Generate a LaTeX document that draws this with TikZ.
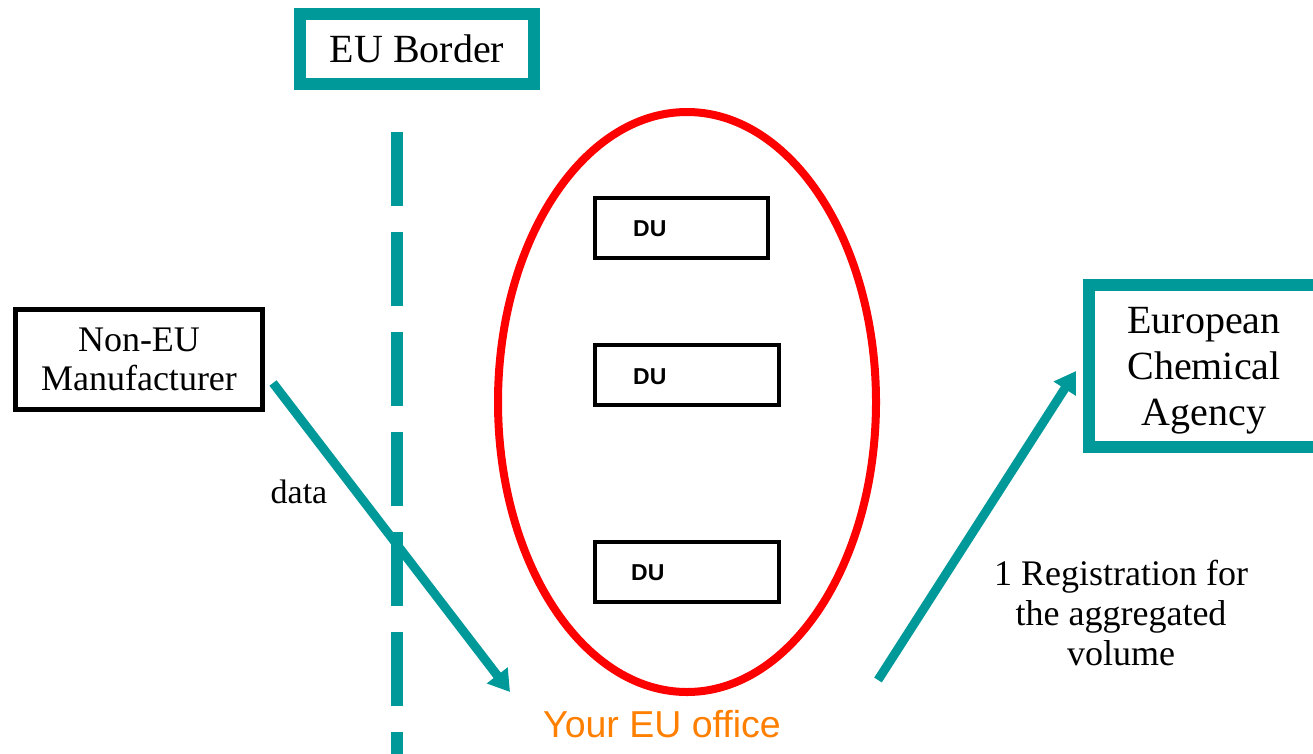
\documentclass[tikz,border=0pt]{standalone}
\usepackage{fontspec}
\setmainfont{Liberation Serif}
\setsansfont{Liberation Sans}
\usetikzlibrary{arrows.meta}
\definecolor{teal}{RGB}{0,153,153}
\definecolor{eured}{RGB}{255,0,0}
\definecolor{euorange}{RGB}{255,128,0}
\tikzset{
  tealbox/.style={draw=teal, line width=12pt, inner sep=0pt, fill=white},
  blackbox/.style={draw=black, line width=5pt, inner sep=0pt},
  dubox/.style={draw=black, line width=4.5pt, inner sep=0pt, minimum height=60pt},
  dutext/.style={anchor=west, inner sep=0pt, font=\sffamily\bfseries\fontsize{23}{27}\selectfont},
  serif/.style={inner sep=0pt, align=center},
  flow/.style={draw=teal, line width=9pt, -{Triangle[length=21pt,width=25pt]}},
  border/.style={draw=teal, line width=12pt, dash pattern=on 74pt off 26pt}
}
\begin{document}
\begin{tikzpicture}[x=1pt,y=-1pt]
\clip (0,0) rectangle (1313,753);
\fill[white] (0,0) rectangle (1313,753);
% EU border
\coordinate (btop) at (397,132);
\coordinate (bbot) at (397,770);
\draw[border] (btop) -- (bbot);
\node[tealbox, minimum width=234pt, minimum height=70pt, font=\fontsize{40}{46}\selectfont] (eub) at (417,49) {EU Border};
% ellipse
\coordinate (ell) at (687,402);
\draw[eured, line width=8pt] (ell) ellipse [x radius=189, y radius=290];
% DU boxes
\node[dubox, minimum width=173pt] (du1) at (681.5,228) {};
\node[dutext] (du1t) at (633,229) {DU};
\node[dubox, minimum width=184pt] (du2) at (687,375) {};
\node[dutext] (du2t) at (633,377) {DU};
\node[dubox, minimum width=184pt] (du3) at (687,572) {};
\node[dutext] (du3t) at (631,573) {DU};
% Non-EU manufacturer
\node[blackbox, minimum width=247pt, minimum height=100pt, align=center, font=\fontsize{36}{39}\selectfont] (mfr) at (139,359.5) {Non-EU\\Manufacturer};
% ECA
\node[tealbox, minimum width=260pt, minimum height=162pt] (eca) at (1219,366) {};
\node[serif, font=\fontsize{40}{46}\selectfont] (ecat) at (1204,371) {European\\Chemical\\Agency};
% arrows
\coordinate (a1s) at (273,383);
\coordinate (a1e) at (510,692);
\coordinate (a2s) at (878,680);
\coordinate (a2e) at (1076,371);
\draw[flow] (a1s) -- (a1e);
\draw[flow] (a2s) -- (a2e);
% labels
\node[serif, anchor=base, font=\fontsize{34}{40}\selectfont] (data) at (299,503) {data};
\node[serif, anchor=base, font=\fontsize{36}{40}\selectfont] (reg) at (1121,585) {1 Registration for};
\node[serif, anchor=base, font=\fontsize{36}{40}\selectfont] (reg2) at (1121,625) {the aggregated};
\node[serif, anchor=base, font=\fontsize{36}{40}\selectfont] (reg3) at (1121,665) {volume};
\node[anchor=base, inner sep=0pt, text=euorange, font=\sffamily\fontsize{37.5}{42}\selectfont] (office) at (662,737) {Your EU office};
\end{tikzpicture}
\end{document}
